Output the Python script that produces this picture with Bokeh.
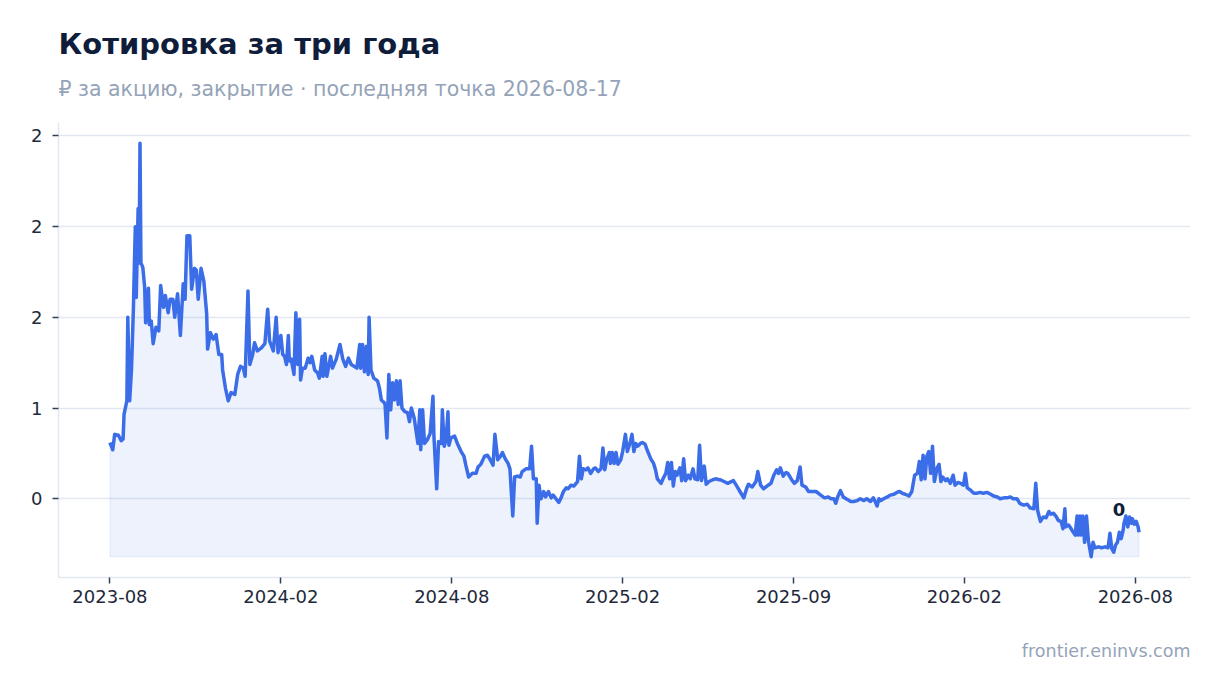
from bokeh.plotting import figure
from bokeh.models import Range1d, FixedTicker, Title
from bokeh.core.properties import value
from bokeh.embed import file_html
from bokeh.resources import INLINE


title_text = "Котировка за три года"
subtitle_text = "₽ за акцию, закрытие · последняя точка 2026-08-17"
source_text = "frontier.eninvs.com"

# days since 2023-08-17 (last point is 2026-08-17)
day = [
    0, 3, 5, 9, 12, 14, 15, 18, 19, 21, 23, 25, 26, 27, 28, 30, 31, 32, 33, 35,
    37, 38, 41, 42, 44, 46, 49, 52, 54, 57, 59, 62, 64, 67, 69, 72, 75, 78, 80, 82,
    85, 87, 90, 92, 94, 97, 100, 103, 104, 107, 110, 113, 116, 119, 120, 123, 126, 129, 133, 136,
    139, 142, 144, 147, 149, 152, 154, 157, 161, 165, 168, 170, 174, 177, 179, 182, 184, 186, 188, 190,
    191,
    193, 196, 198, 200, 202, 203, 205, 208, 211, 213, 215, 218, 221, 223, 226, 227, 229, 231, 235, 237,
    241, 245, 248, 251, 254, 257, 260, 263, 266, 267, 269, 271, 273, 275, 276, 278, 281, 285, 287, 289,
    292, 293, 295, 297, 299, 301, 303, 305, 307, 309, 311, 314, 317, 319, 321, 324, 328, 330, 331, 333,
    335, 338, 341, 344, 345, 348, 350, 353, 354, 356, 358, 360, 361, 363, 367, 370, 374, 377, 379, 382,
    386, 390, 392,
    395, 399, 402, 405, 408, 410, 413, 416, 418, 421, 424, 426, 429, 431, 434, 437, 439, 443, 447, 449,
    451, 454, 455, 457, 459, 462, 464, 467, 470, 472, 475, 478, 480, 483, 486, 488, 491, 494, 498, 500,
    502, 504, 507, 509, 512, 515, 517, 520, 523, 525, 527, 529, 532, 533, 535, 537, 539, 541, 544, 546,
    549, 551, 554, 556, 558, 560, 562, 565, 567, 570, 572, 576, 579, 581, 583, 587, 589, 592, 594, 596,
    598, 600, 602, 604, 607, 609, 611, 613, 616, 618, 621, 623, 626, 628, 630, 633, 635, 638, 642, 645,
    649,
    650, 654, 658, 660, 664, 667, 671, 675, 678, 680, 684, 688, 690, 693, 696, 701, 704, 707, 710, 712,
    714, 717, 720, 722, 726, 729, 732, 735, 737, 741, 744, 748, 752, 757, 761, 765, 768, 771, 773, 775,
    778, 781, 784, 789, 792, 796, 799, 803, 806, 810, 813, 815, 817, 819, 821, 824, 828, 831, 835, 838,
    841, 844, 847, 851, 854, 857, 860, 862, 864, 866, 868, 870, 872, 874, 876, 878, 881, 883, 885, 887,
    890, 892, 895, 898, 900, 903,
    906, 909, 911, 913, 916, 920, 923, 927, 930, 934, 938, 941, 945, 948, 952, 955, 959, 962, 966, 969,
    973, 977, 980, 984, 986, 988, 991, 994, 997, 1000, 1002, 1005, 1008, 1010, 1013, 1015, 1017, 1018, 1021, 1023,
    1026, 1028, 1030, 1031, 1033, 1034, 1036, 1038, 1040, 1042, 1045, 1047, 1049, 1053, 1056, 1060, 1063, 1065, 1067, 1069,
    1071, 1073, 1075, 1077, 1079, 1080, 1082, 1084, 1086, 1088, 1089, 1091, 1093, 1095, 1096,
]

# close price, rub per share
close = [
    0.81, 0.77, 0.855, 0.85, 0.82, 0.83, 0.965, 1.04, 1.50, 1.04, 1.22, 1.555, 1.785, 2.0, 1.61, 2.10, 1.80, 2.46, 1.80, 1.775,
    1.665, 1.47, 1.66, 1.46, 1.48, 1.355, 1.445, 1.425, 1.675, 1.555, 1.62, 1.525, 1.60, 1.60, 1.50, 1.63, 1.40, 1.685, 1.60, 1.95,
    1.95, 1.655, 1.77, 1.76, 1.60, 1.77, 1.70, 1.52, 1.325, 1.415, 1.38, 1.405, 1.295, 1.295, 1.21, 1.11, 1.04, 1.085, 1.075, 1.185,
    1.23, 1.22, 1.175, 1.645, 1.24, 1.295, 1.36, 1.315, 1.33, 1.355, 1.545, 1.37, 1.315, 1.50, 1.305, 1.40, 1.295, 1.285, 1.24, 1.40,
    1.26,
    1.27, 1.185, 1.525, 1.24, 1.49, 1.155, 1.22, 1.22, 1.275, 1.25, 1.285, 1.21, 1.195, 1.165, 1.285, 1.175, 1.30, 1.175, 1.285, 1.22,
    1.27, 1.35, 1.27, 1.23, 1.275, 1.24, 1.23, 1.22, 1.35, 1.22, 1.35, 1.20, 1.34, 1.185, 1.50, 1.21, 1.165, 1.15, 1.11, 1.045,
    1.03, 1.02, 0.835, 1.185, 0.99, 1.14, 1.045, 1.15, 1.02, 1.15, 1.00, 0.98, 0.975, 0.925, 1.00, 0.945, 0.805, 0.99, 0.77, 0.99,
    0.805, 0.825, 0.86, 1.065, 0.85, 0.555, 0.815, 0.805, 0.99, 0.79, 0.825, 0.98, 0.795, 0.835, 0.845, 0.805, 0.76, 0.735, 0.685, 0.62,
    0.64, 0.64, 0.675,
    0.69, 0.735, 0.74, 0.715, 0.685, 0.855, 0.715, 0.735, 0.755, 0.72, 0.695, 0.665, 0.405, 0.62, 0.625, 0.62, 0.65, 0.665, 0.665, 0.79,
    0.61, 0.61, 0.365, 0.575, 0.50, 0.54, 0.51, 0.54, 0.505, 0.52, 0.50, 0.48, 0.50, 0.54, 0.56, 0.555, 0.575, 0.57, 0.595, 0.735,
    0.61, 0.665, 0.66, 0.67, 0.64, 0.665, 0.67, 0.65, 0.665, 0.78, 0.66, 0.715, 0.755, 0.695, 0.755, 0.695, 0.755, 0.69, 0.715, 0.76,
    0.855, 0.76, 0.81, 0.855, 0.76, 0.805, 0.79, 0.805, 0.81, 0.80, 0.77, 0.72, 0.695, 0.66, 0.61, 0.585, 0.61, 0.64, 0.70, 0.61,
    0.70, 0.57, 0.65, 0.63, 0.67, 0.60, 0.72, 0.60, 0.63, 0.61, 0.665, 0.61, 0.605, 0.795, 0.60, 0.68, 0.58, 0.595, 0.605, 0.61,
    0.605,
    0.605, 0.595, 0.585, 0.59, 0.60, 0.575, 0.54, 0.505, 0.555, 0.58, 0.565, 0.595, 0.65, 0.575, 0.555, 0.575, 0.585, 0.63, 0.66, 0.64,
    0.67, 0.625, 0.645, 0.64, 0.605, 0.585, 0.60, 0.675, 0.575, 0.565, 0.54, 0.54, 0.54, 0.52, 0.505, 0.51, 0.50, 0.50, 0.475, 0.51,
    0.545, 0.51, 0.50, 0.485, 0.485, 0.49, 0.50, 0.49, 0.50, 0.485, 0.505, 0.485, 0.46, 0.50, 0.49, 0.50, 0.51, 0.52, 0.525, 0.535,
    0.54, 0.53, 0.525, 0.515, 0.54, 0.63, 0.64, 0.705, 0.605, 0.74, 0.61, 0.735, 0.76, 0.64, 0.79, 0.595, 0.67, 0.69, 0.595, 0.62,
    0.60, 0.61, 0.585, 0.63, 0.575, 0.59,
    0.585, 0.575, 0.64, 0.56, 0.55, 0.53, 0.53, 0.535, 0.53, 0.535, 0.525, 0.515, 0.51, 0.50, 0.505, 0.505, 0.51, 0.50, 0.50, 0.475,
    0.465, 0.47, 0.45, 0.445, 0.585, 0.435, 0.375, 0.40, 0.395, 0.43, 0.415, 0.42, 0.40, 0.38, 0.375, 0.335, 0.445, 0.345, 0.355, 0.34,
    0.315, 0.30, 0.405, 0.30, 0.405, 0.30, 0.405, 0.26, 0.405, 0.27, 0.18, 0.26, 0.23, 0.235, 0.23, 0.235, 0.23, 0.31, 0.225, 0.205,
    0.245, 0.26, 0.315, 0.28, 0.325, 0.365, 0.405, 0.345, 0.40, 0.365, 0.39, 0.36, 0.375, 0.345, 0.315,
]

x_ticks = [0, 182, 364, 546, 728, 910, 1092]
x_tick_labels = ["2023-08", "2024-02", "2024-08", "2025-02", "2025-09", "2026-02", "2026-08"]
y_ticks = [0.5, 1.0, 1.5, 2.0, 2.5]
y_tick_labels = ["0", "1", "2", "2", "2"]

FONT = "DejaVu Sans"
BLUE = "#3b6de8"
INK = "#0f1d3a"
MUTED = "#94a3b8"
GRID = "#e3e8f1"

lo, hi = min(close), max(close)
pad_y = (hi - lo) * 0.05
pad_x = (day[-1] - day[0]) * 0.05

p = figure(
    title=None,
    width=1204,
    height=677,
    x_range=Range1d(day[0] - pad_x, day[-1] + pad_x),
    y_range=Range1d(lo - pad_y, hi + pad_y),
    output_backend="svg",
    toolbar_location=None,
    min_border_left=58,
    min_border_right=14,
    min_border_top=122,
    min_border_bottom=100,
)
p.outline_line_color = None
p.background_fill_color = "white"
p.border_fill_color = "white"

# titles: first added sits closest to the plot (the blank one is only a spacer)
p.add_layout(Title(text=" ", text_font_size="1px", standoff=4), "above")
p.add_layout(Title(text=subtitle_text, text_font=FONT, text_font_size="20.5px",
                   text_font_style="normal", text_color=MUTED, align="left", standoff=29), "above")
p.add_layout(Title(text=title_text, text_font=FONT, text_font_size="29px",
                   text_font_style="bold", text_color=INK, align="left", standoff=0), "above")

# source line under the axis; the leading blank line pushes it down
p.add_layout(Title(text="\n" + source_text, text_font=FONT, text_font_size="17.5px",
                   text_font_style="normal", text_color=MUTED, align="right",
                   vertical_align="bottom", standoff=27), "below")

# area under the line
p.patch(
    x=day + [day[-1], day[0]],
    y=close + [lo, lo],
    fill_color=BLUE, fill_alpha=0.09,
    line_color=BLUE, line_alpha=0.1, line_width=1,
)
p.line(day, close, line_color=BLUE, line_width=3.5, line_join="round")

p.text(
    x=[day[-1]], y=[close[-1]], text=[f"{close[-1]:.0f}"],
    text_font=value(FONT), text_font_style="bold", text_font_size="18px",
    text_color=INK, text_align="center", text_baseline="middle",
    x_offset=-20, y_offset=-23,
)

p.xgrid.visible = False
p.ygrid.grid_line_color = GRID
p.ygrid.grid_line_width = 1.5

p.xaxis.ticker = FixedTicker(ticks=x_ticks)
p.xaxis.major_label_overrides = dict(zip(x_ticks, x_tick_labels))
p.yaxis.ticker = FixedTicker(ticks=y_ticks)
p.yaxis.major_label_overrides = dict(zip(y_ticks, y_tick_labels))

p.axis.axis_line_color = GRID
p.axis.axis_line_width = 1.5
p.axis.major_tick_line_color = "#334155"
p.axis.major_tick_line_width = 1.5
p.axis.major_tick_in = 0
p.axis.major_tick_out = 6
p.axis.minor_tick_line_color = None
p.axis.major_label_text_font = FONT
p.axis.major_label_text_font_size = "18px"
p.axis.major_label_text_color = "#1e293b"
p.xaxis.major_label_standoff = 6
p.yaxis.major_label_standoff = 10

open("out.html", "w").write(file_html(p, INLINE))
